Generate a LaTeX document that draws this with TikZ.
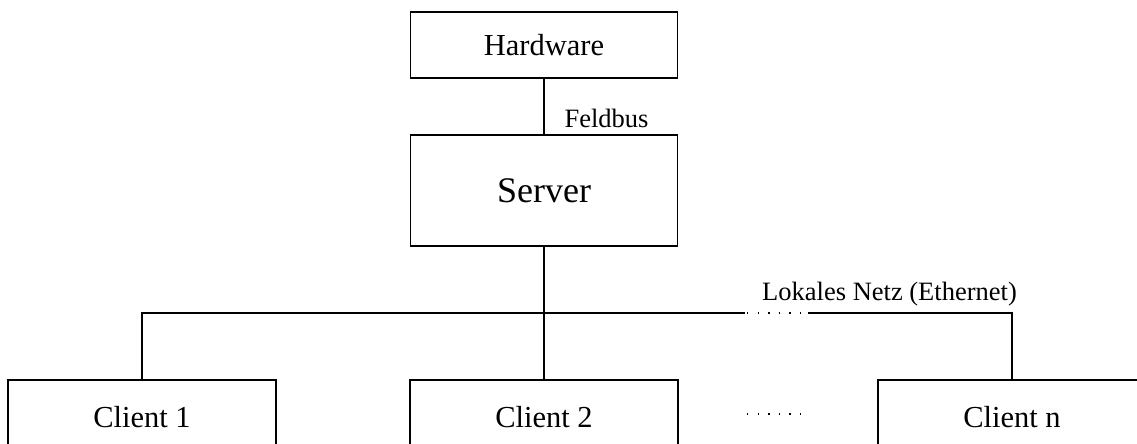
\documentclass[tikz,border=0pt]{standalone}
\usepackage{fontspec}
\setmainfont{Liberation Serif}
\begin{document}
\begin{tikzpicture}[x=1pt,y=-1pt,line width=1.2pt,
  box/.style={draw, minimum width=267pt, inner sep=0pt, font=\fontsize{30.5}{36}\selectfont},
  clientbox/.style={box, minimum width=268pt, minimum height=74pt},
  lbl/.style={font=\fontsize{26.5}{31}\selectfont, inner sep=0pt},
  dotline/.style={line width=1.3pt, dash pattern=on 1.3pt off 9.3pt}]
\useasboundingbox (0,0) rectangle (1137,444);
\clip (0,0) rectangle (1137,444);
\node[box, minimum height=66pt] (hw) at (544,45) {Hardware};
\node[box, minimum height=111pt, font=\fontsize{36}{42}\selectfont] (srv) at (544,190.5) {Server};
\node[clientbox] (c1) at (142,417) {Client 1};
\node[clientbox] (c2) at (544,417) {Client 2};
\node[clientbox] (cn) at (1012,417) {Client n};
\node[lbl, anchor=west] (fb) at (564,118) {Feldbus};
\node[lbl] (ln) at (889.5,294) {Lokales Netz (Ethernet)};
\coordinate (dl) at (745,313);
\coordinate (dr) at (808,313);
\coordinate (ml) at (747,414);
\coordinate (mr) at (806,414);
\draw (hw.south) -- (srv.north);
\draw (srv.south) -- (c2.north);
\draw (c1.north) |- (dl);
\draw (dr) -| (cn.north);
\draw[dotline] (dl) ++(2,0) -- (dr);
\draw[dotline] (ml) -- (mr);
\end{tikzpicture}
\end{document}
